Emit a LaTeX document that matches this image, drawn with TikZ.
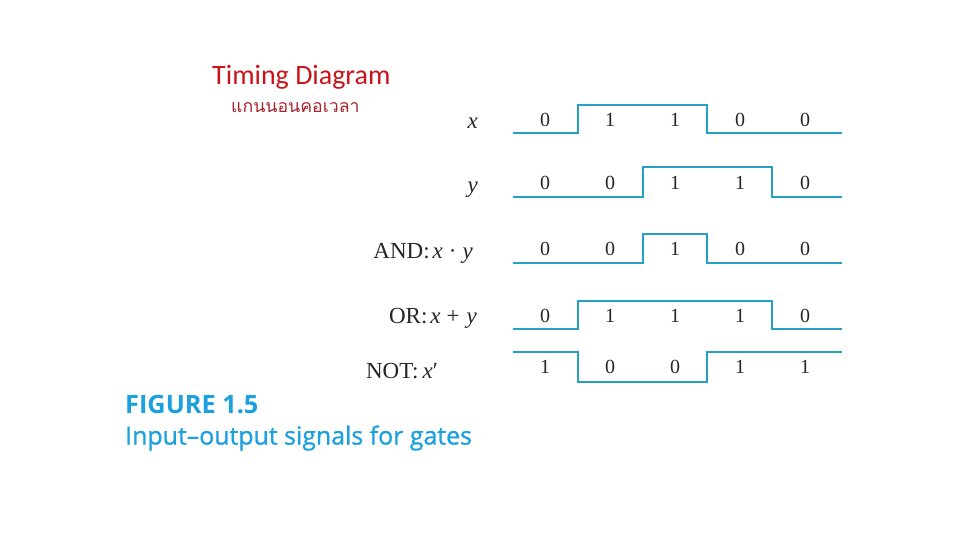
\documentclass[tikz,border=0pt]{standalone}
\usepackage{fontspec}
\setmainfont{Liberation Serif}
\newfontfamily\titlefont{Carlito}
\newfontfamily\thaifont[Script=Thai]{Loma}
\newfontfamily\capfont{Open Sans}
\newfontfamily\capsemi[FakeBold=1.0]{Open Sans}
\definecolor{sig}{RGB}{38,160,198}
\definecolor{capblue}{RGB}{28,160,222}
\definecolor{tred}{RGB}{200,20,25}
\definecolor{thred}{RGB}{170,35,45}
\begin{document}
\begin{tikzpicture}[x=1pt,y=-1pt,
  wave/.style={draw=sig,line width=2pt,line join=miter},
  bit/.style={font=\fontsize{20}{20}\selectfont,inner sep=0pt,text=black!85},
  lab/.style={font=\fontsize{23}{23}\selectfont,inner sep=0pt,anchor=east,text=black!85}]
\useasboundingbox (0,0) rectangle (960,540);
% titles
\node[anchor=west,inner sep=0pt,text=tred,font=\titlefont\fontsize{28}{28}\selectfont] (title) at (212,77) {Timing Diagram};
\node[anchor=west,inner sep=0pt,text=thred,font=\thaifont\fontsize{17.7}{18}\selectfont] (thai) at (231,108) {แกนนอนคอเวลา};
% labels
\node[lab] (lx) at (478,123) {\textit{x}};
\node[lab] (ly) at (478,190) {\textit{y}};
\node[lab] (land) at (473,253) {AND:\kern3pt\textit{x}\kern6pt·\kern6pt\textit{y}};
\node[lab] (lor) at (477,318) {OR:\kern3pt\textit{x}\kern6pt+\kern7pt\textit{y}};
\node[lab] (lnot) at (438,371) {NOT:\kern4pt\textit{x}′};
% waveforms
\draw[wave] (513,132.7) -- (578,132.7) -- (578,105) -- (707,105) -- (707,132.7) -- (842,132.7);
\draw[wave] (513,196.7) -- (643,196.7) -- (643,167.3) -- (772,167.3) -- (772,196.7) -- (842,196.7);
\draw[wave] (513,262.7) -- (643,262.7) -- (643,234.3) -- (707,234.3) -- (707,262.7) -- (842,262.7);
\draw[wave] (513,329) -- (578,329) -- (578,301) -- (772,301) -- (772,329) -- (842,329);
\draw[wave] (513,352.3) -- (578,352.3) -- (578,381.7) -- (707,381.7) -- (707,352.3) -- (842,352.3);
% bits
\foreach \r/\yy/\vals in {x/120/{0,1,1,0,0}, y/183/{0,0,1,1,0}, a/249/{0,0,1,0,0}, o/316/{0,1,1,1,0}, n/367/{1,0,0,1,1}}{
  \foreach \v [count=\i] in \vals {
    \node[bit] (b\r\i) at ({545+65*(\i-1)},\yy) {\v};
  }
}
% caption
\node[anchor=west,inner sep=0pt,text=capblue,font=\capfont\bfseries\fontsize{25.3}{25}\selectfont] (fig) at (125,405) {FIGURE 1.5};
\node[anchor=west,inner sep=0pt,text=capblue,font=\capsemi\fontsize{24.9}{25}\selectfont] (cap) at (125,438) {Input–output signals for gates};
\end{tikzpicture}
\end{document}
